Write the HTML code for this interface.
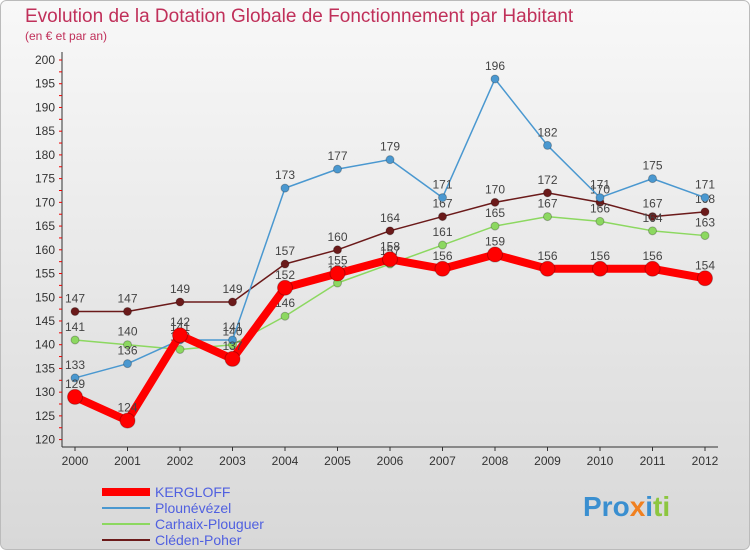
<!DOCTYPE html>
<html><head><meta charset="utf-8"><style>
body{margin:0;width:750px;height:550px;overflow:hidden;font-family:"Liberation Sans",sans-serif}
</style></head><body>
<svg width="750" height="550" xmlns="http://www.w3.org/2000/svg">
<defs><linearGradient id="bg" x1="0" y1="0" x2="0" y2="1"><stop offset="0" stop-color="#f8f8f8"/><stop offset="1" stop-color="#d8d8d8"/></linearGradient></defs>
<rect x="0.5" y="0.5" width="749" height="549" rx="6" fill="url(#bg)" stroke="#bbb"/>
<text x="25" y="22" font-size="19" fill="#c0305a">Evolution de la Dotation Globale de Fonctionnement par Habitant</text>
<text x="25" y="40" font-size="12" fill="#c0305a">(en € et par an)</text>
<g id="axes"></g><g id="series"></g><g id="legend"></g>
<text x="583" y="516" font-size="28" font-weight="bold" fill="#3a8fd0">Pro<tspan fill="#f08020">x</tspan><tspan fill="#3a8fd0">i</tspan><tspan fill="#8cc63f">ti</tspan></text>
</svg>
<script>
const years=[2000,2001,2002,2003,2004,2005,2006,2007,2008,2009,2010,2011,2012];
const yTicks=[120,125,130,135,140,145,150,155,160,165,170,175,180,185,190,195,200];
const kergloff=[129,124,142,137,152,155,158,156,159,156,156,156,154];
const plounevezel=[133,136,141,141,173,177,179,171,196,182,171,175,171];
const carhaix=[141,140,139,140,146,153,157,161,165,167,166,164,163];
const cleden=[147,147,149,149,157,160,164,167,170,172,170,167,168];
const NS="http://www.w3.org/2000/svg";
const X=i=>75+i*52.5, Y=v=>60+(200-v)*4.745;
function mk(t,a,p){const e=document.createElementNS(NS,t);for(const k in a)e.setAttribute(k,a[k]);p.appendChild(e);return e;}
const ax=document.getElementById('axes');
const yl=mk('line',{x1:62,y1:52,x2:62,y2:447,stroke:'#333'},ax);


const xl=mk('line',{x1:62,y1:447,x2:718,y2:447,stroke:'#333'},ax);


for(let v=120;v<=200;v+=2.5){mk('line',{x1:59,x2:62,y1:Y(v),y2:Y(v),stroke:'#e00'},ax);}
yTicks.forEach(v=>{const t=mk('text',{x:55,y:Y(v)+4,'font-size':12,'text-anchor':'end',fill:'#333'},ax);t.textContent=v;

});
years.forEach((y,i)=>{mk('line',{x1:X(i),x2:X(i),y1:447,y2:451,stroke:'#333'},ax);const t=mk('text',{x:X(i),y:465,'font-size':12,'text-anchor':'middle',fill:'#333'},ax);t.textContent=y;

});
const ser=[
{n:'Cléden-Poher',d:cleden,c:'#6b1a1a',w:1.5,r:4},
{n:'Carhaix-Plouguer',d:carhaix,c:'#8cd860',w:1.5,r:4},
{n:'Plounévézel',d:plounevezel,c:'#4a98d0',w:1.5,r:4},
{n:'KERGLOFF',d:kergloff,c:'#f00',w:8,r:7.5}];
const sg=document.getElementById('series');
ser.forEach(s=>{const g=mk('g',{},sg);


mk('polyline',{points:s.d.map((v,i)=>X(i)+','+Y(v)).join(' '),fill:'none',stroke:s.c,'stroke-width':s.w,'stroke-linejoin':'round'},g);
s.d.forEach((v,i)=>{const c=mk('circle',{cx:X(i),cy:Y(v),r:s.r,fill:s.c,stroke:'rgba(0,0,0,0.25)'},g);


const t=mk('text',{x:X(i),y:Y(v)-9,'font-size':12,'text-anchor':'middle',fill:'#444'},g);t.textContent=v;

});});
const lg=document.getElementById('legend');
[{n:'KERGLOFF',c:'#f00',w:8},{n:'Plounévézel',c:'#4a98d0',w:2},{n:'Carhaix-Plouguer',c:'#8cd860',w:2},{n:'Cléden-Poher',c:'#6b1a1a',w:2}].forEach((s,i)=>{
const g=mk('g',{},lg);


const y=492+i*16;
mk('line',{x1:102,x2:150,y1:y,y2:y,stroke:s.c,'stroke-width':s.w},g);
const t=mk('text',{x:155,y:y+5,'font-size':14,fill:'#5060e0'},g);t.textContent=s.n;});
</script>
</body></html>
